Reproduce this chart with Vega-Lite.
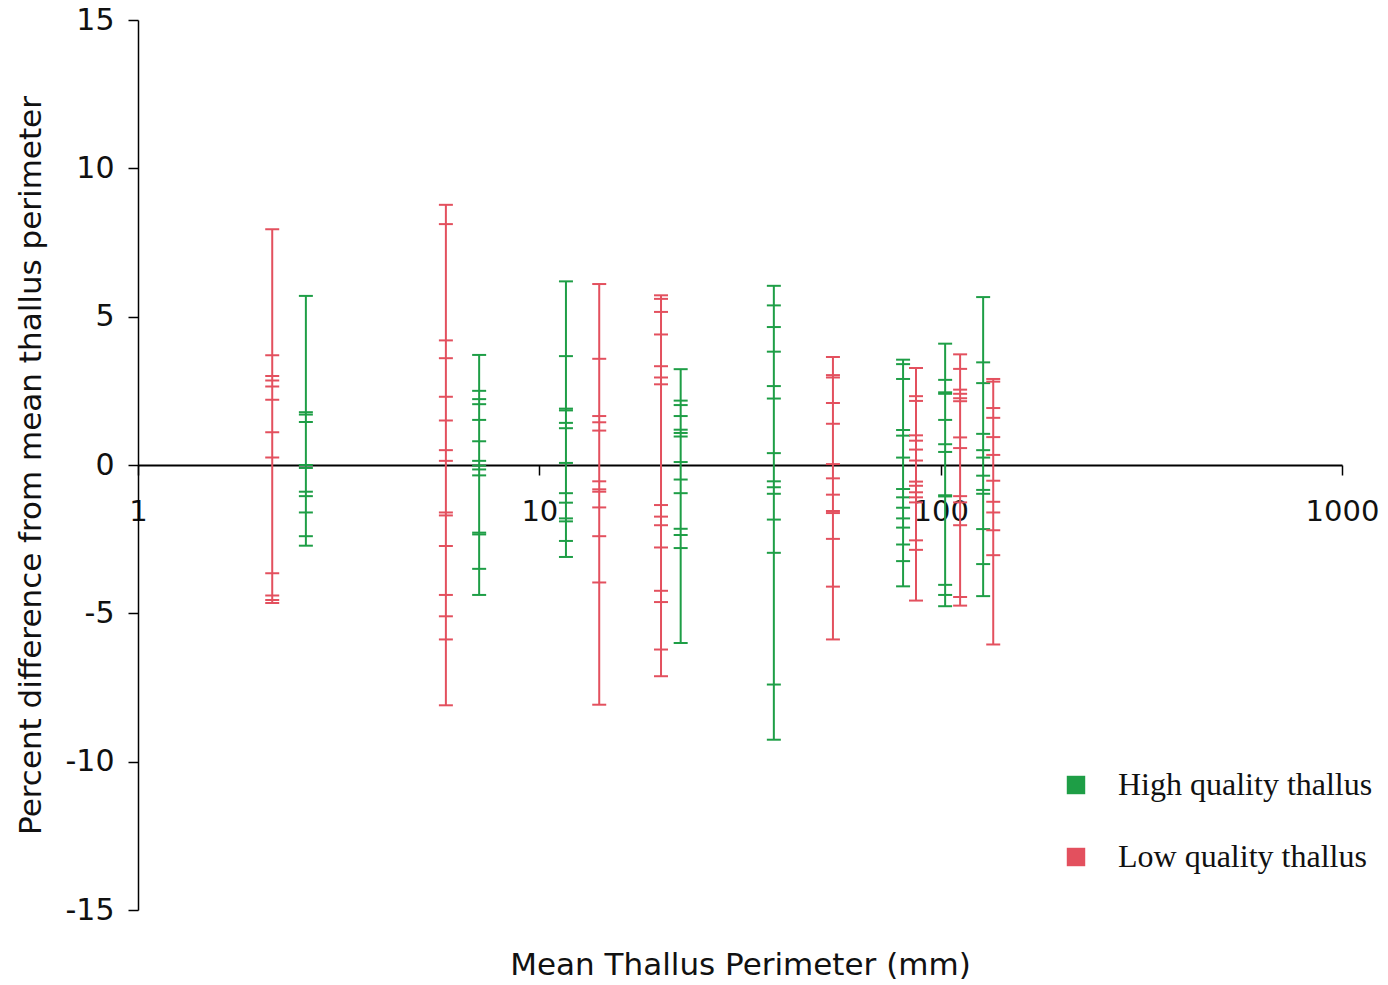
{
  "$schema": "https://vega.github.io/schema/vega-lite/v6.json",
  "width": 1204,
  "height": 890,
  "autosize": {"type": "none"},
  "padding": {"left": 138, "top": 20, "right": 46, "bottom": 75},
  "background": "white",
  "config": {"view": {"stroke": null}, "font": "DejaVu Sans"},
  "datasets": {
    "pts": [
      {"x": 2.16, "q": "Low quality thallus", "v": 7.95},
      {"x": 2.16, "q": "Low quality thallus", "v": 3.7},
      {"x": 2.16, "q": "Low quality thallus", "v": 3.0},
      {"x": 2.16, "q": "Low quality thallus", "v": 2.85},
      {"x": 2.16, "q": "Low quality thallus", "v": 2.65},
      {"x": 2.16, "q": "Low quality thallus", "v": 2.2},
      {"x": 2.16, "q": "Low quality thallus", "v": 1.1},
      {"x": 2.16, "q": "Low quality thallus", "v": 0.25},
      {"x": 2.16, "q": "Low quality thallus", "v": -3.65},
      {"x": 2.16, "q": "Low quality thallus", "v": -4.4},
      {"x": 2.16, "q": "Low quality thallus", "v": -4.55},
      {"x": 2.16, "q": "Low quality thallus", "v": -4.65},

      {"x": 2.62, "q": "High quality thallus", "v": 5.7},
      {"x": 2.62, "q": "High quality thallus", "v": 1.78},
      {"x": 2.62, "q": "High quality thallus", "v": 1.7},
      {"x": 2.62, "q": "High quality thallus", "v": 1.45},
      {"x": 2.62, "q": "High quality thallus", "v": 0.0},
      {"x": 2.62, "q": "High quality thallus", "v": -0.1},
      {"x": 2.62, "q": "High quality thallus", "v": -0.9},
      {"x": 2.62, "q": "High quality thallus", "v": -1.05},
      {"x": 2.62, "q": "High quality thallus", "v": -1.6},
      {"x": 2.62, "q": "High quality thallus", "v": -2.4},
      {"x": 2.62, "q": "High quality thallus", "v": -2.72},

      {"x": 5.85, "q": "Low quality thallus", "v": 8.77},
      {"x": 5.85, "q": "Low quality thallus", "v": 8.12},
      {"x": 5.85, "q": "Low quality thallus", "v": 4.2},
      {"x": 5.85, "q": "Low quality thallus", "v": 3.6},
      {"x": 5.85, "q": "Low quality thallus", "v": 2.3},
      {"x": 5.85, "q": "Low quality thallus", "v": 1.5},
      {"x": 5.85, "q": "Low quality thallus", "v": 0.5},
      {"x": 5.85, "q": "Low quality thallus", "v": 0.14},
      {"x": 5.85, "q": "Low quality thallus", "v": -1.6},
      {"x": 5.85, "q": "Low quality thallus", "v": -1.7},
      {"x": 5.85, "q": "Low quality thallus", "v": -2.73},
      {"x": 5.85, "q": "Low quality thallus", "v": -4.38},
      {"x": 5.85, "q": "Low quality thallus", "v": -5.1},
      {"x": 5.85, "q": "Low quality thallus", "v": -5.88},
      {"x": 5.85, "q": "Low quality thallus", "v": -8.1},

      {"x": 7.08, "q": "High quality thallus", "v": 3.71},
      {"x": 7.08, "q": "High quality thallus", "v": 2.5},
      {"x": 7.08, "q": "High quality thallus", "v": 2.22},
      {"x": 7.08, "q": "High quality thallus", "v": 2.05},
      {"x": 7.08, "q": "High quality thallus", "v": 1.52},
      {"x": 7.08, "q": "High quality thallus", "v": 0.8},
      {"x": 7.08, "q": "High quality thallus", "v": 0.14},
      {"x": 7.08, "q": "High quality thallus", "v": -0.02},
      {"x": 7.08, "q": "High quality thallus", "v": -0.15},
      {"x": 7.08, "q": "High quality thallus", "v": -0.35},
      {"x": 7.08, "q": "High quality thallus", "v": -2.28},
      {"x": 7.08, "q": "High quality thallus", "v": -2.34},
      {"x": 7.08, "q": "High quality thallus", "v": -3.5},
      {"x": 7.08, "q": "High quality thallus", "v": -4.38},

      {"x": 11.65, "q": "High quality thallus", "v": 6.19},
      {"x": 11.65, "q": "High quality thallus", "v": 3.67},
      {"x": 11.65, "q": "High quality thallus", "v": 1.9},
      {"x": 11.65, "q": "High quality thallus", "v": 1.84},
      {"x": 11.65, "q": "High quality thallus", "v": 1.42},
      {"x": 11.65, "q": "High quality thallus", "v": 1.24},
      {"x": 11.65, "q": "High quality thallus", "v": 0.07},
      {"x": 11.65, "q": "High quality thallus", "v": -0.95},
      {"x": 11.65, "q": "High quality thallus", "v": -1.27},
      {"x": 11.65, "q": "High quality thallus", "v": -1.8},
      {"x": 11.65, "q": "High quality thallus", "v": -1.9},
      {"x": 11.65, "q": "High quality thallus", "v": -2.56},
      {"x": 11.65, "q": "High quality thallus", "v": -3.1},

      {"x": 14.1, "q": "Low quality thallus", "v": 6.1},
      {"x": 14.1, "q": "Low quality thallus", "v": 3.58},
      {"x": 14.1, "q": "Low quality thallus", "v": 1.65},
      {"x": 14.1, "q": "Low quality thallus", "v": 1.44},
      {"x": 14.1, "q": "Low quality thallus", "v": 1.16},
      {"x": 14.1, "q": "Low quality thallus", "v": -0.55},
      {"x": 14.1, "q": "Low quality thallus", "v": -0.82},
      {"x": 14.1, "q": "Low quality thallus", "v": -0.9},
      {"x": 14.1, "q": "Low quality thallus", "v": -1.43},
      {"x": 14.1, "q": "Low quality thallus", "v": -2.4},
      {"x": 14.1, "q": "Low quality thallus", "v": -3.96},
      {"x": 14.1, "q": "Low quality thallus", "v": -8.08},

      {"x": 20.1, "q": "Low quality thallus", "v": 5.72},
      {"x": 20.1, "q": "Low quality thallus", "v": 5.6},
      {"x": 20.1, "q": "Low quality thallus", "v": 5.16},
      {"x": 20.1, "q": "Low quality thallus", "v": 4.4},
      {"x": 20.1, "q": "Low quality thallus", "v": 3.33},
      {"x": 20.1, "q": "Low quality thallus", "v": 2.95},
      {"x": 20.1, "q": "Low quality thallus", "v": 2.72},
      {"x": 20.1, "q": "Low quality thallus", "v": -1.35},
      {"x": 20.1, "q": "Low quality thallus", "v": -1.74},
      {"x": 20.1, "q": "Low quality thallus", "v": -2.03},
      {"x": 20.1, "q": "Low quality thallus", "v": -2.78},
      {"x": 20.1, "q": "Low quality thallus", "v": -4.24},
      {"x": 20.1, "q": "Low quality thallus", "v": -4.62},
      {"x": 20.1, "q": "Low quality thallus", "v": -6.22},
      {"x": 20.1, "q": "Low quality thallus", "v": -7.12},

      {"x": 22.5, "q": "High quality thallus", "v": 3.23},
      {"x": 22.5, "q": "High quality thallus", "v": 2.17},
      {"x": 22.5, "q": "High quality thallus", "v": 2.02},
      {"x": 22.5, "q": "High quality thallus", "v": 1.65},
      {"x": 22.5, "q": "High quality thallus", "v": 1.19},
      {"x": 22.5, "q": "High quality thallus", "v": 1.08},
      {"x": 22.5, "q": "High quality thallus", "v": 0.96},
      {"x": 22.5, "q": "High quality thallus", "v": 0.1},
      {"x": 22.5, "q": "High quality thallus", "v": -0.49},
      {"x": 22.5, "q": "High quality thallus", "v": -0.95},
      {"x": 22.5, "q": "High quality thallus", "v": -2.15},
      {"x": 22.5, "q": "High quality thallus", "v": -2.36},
      {"x": 22.5, "q": "High quality thallus", "v": -2.8},
      {"x": 22.5, "q": "High quality thallus", "v": -6.0},

      {"x": 38.4, "q": "High quality thallus", "v": 6.04},
      {"x": 38.4, "q": "High quality thallus", "v": 5.38},
      {"x": 38.4, "q": "High quality thallus", "v": 4.65},
      {"x": 38.4, "q": "High quality thallus", "v": 3.82},
      {"x": 38.4, "q": "High quality thallus", "v": 2.66},
      {"x": 38.4, "q": "High quality thallus", "v": 2.24},
      {"x": 38.4, "q": "High quality thallus", "v": 0.4},
      {"x": 38.4, "q": "High quality thallus", "v": -0.55},
      {"x": 38.4, "q": "High quality thallus", "v": -0.75},
      {"x": 38.4, "q": "High quality thallus", "v": -0.97},
      {"x": 38.4, "q": "High quality thallus", "v": -1.84},
      {"x": 38.4, "q": "High quality thallus", "v": -2.96},
      {"x": 38.4, "q": "High quality thallus", "v": -7.4},
      {"x": 38.4, "q": "High quality thallus", "v": -9.26},

      {"x": 53.9, "q": "Low quality thallus", "v": 3.64},
      {"x": 53.9, "q": "Low quality thallus", "v": 3.03},
      {"x": 53.9, "q": "Low quality thallus", "v": 2.95},
      {"x": 53.9, "q": "Low quality thallus", "v": 2.09},
      {"x": 53.9, "q": "Low quality thallus", "v": 1.39},
      {"x": 53.9, "q": "Low quality thallus", "v": 0.03},
      {"x": 53.9, "q": "Low quality thallus", "v": -0.45},
      {"x": 53.9, "q": "Low quality thallus", "v": -1.0},
      {"x": 53.9, "q": "Low quality thallus", "v": -1.55},
      {"x": 53.9, "q": "Low quality thallus", "v": -1.62},
      {"x": 53.9, "q": "Low quality thallus", "v": -2.49},
      {"x": 53.9, "q": "Low quality thallus", "v": -4.1},
      {"x": 53.9, "q": "Low quality thallus", "v": -5.88},

      {"x": 80.6, "q": "High quality thallus", "v": 3.55},
      {"x": 80.6, "q": "High quality thallus", "v": 3.4},
      {"x": 80.6, "q": "High quality thallus", "v": 2.9},
      {"x": 80.6, "q": "High quality thallus", "v": 1.18},
      {"x": 80.6, "q": "High quality thallus", "v": 0.99},
      {"x": 80.6, "q": "High quality thallus", "v": 0.25},
      {"x": 80.6, "q": "High quality thallus", "v": -0.81},
      {"x": 80.6, "q": "High quality thallus", "v": -1.09},
      {"x": 80.6, "q": "High quality thallus", "v": -1.44},
      {"x": 80.6, "q": "High quality thallus", "v": -1.8},
      {"x": 80.6, "q": "High quality thallus", "v": -2.11},
      {"x": 80.6, "q": "High quality thallus", "v": -2.68},
      {"x": 80.6, "q": "High quality thallus", "v": -3.24},
      {"x": 80.6, "q": "High quality thallus", "v": -4.09},

      {"x": 86.8, "q": "Low quality thallus", "v": 3.27},
      {"x": 86.8, "q": "Low quality thallus", "v": 2.32},
      {"x": 86.8, "q": "Low quality thallus", "v": 2.16},
      {"x": 86.8, "q": "Low quality thallus", "v": 1.0},
      {"x": 86.8, "q": "Low quality thallus", "v": 0.82},
      {"x": 86.8, "q": "Low quality thallus", "v": 0.52},
      {"x": 86.8, "q": "Low quality thallus", "v": 0.15},
      {"x": 86.8, "q": "Low quality thallus", "v": -0.56},
      {"x": 86.8, "q": "Low quality thallus", "v": -0.7},
      {"x": 86.8, "q": "Low quality thallus", "v": -0.92},
      {"x": 86.8, "q": "Low quality thallus", "v": -1.09},
      {"x": 86.8, "q": "Low quality thallus", "v": -1.26},
      {"x": 86.8, "q": "Low quality thallus", "v": -2.54},
      {"x": 86.8, "q": "Low quality thallus", "v": -2.86},
      {"x": 86.8, "q": "Low quality thallus", "v": -4.57},

      {"x": 102.6, "q": "High quality thallus", "v": 4.09},
      {"x": 102.6, "q": "High quality thallus", "v": 2.87},
      {"x": 102.6, "q": "High quality thallus", "v": 2.45},
      {"x": 102.6, "q": "High quality thallus", "v": 2.4},
      {"x": 102.6, "q": "High quality thallus", "v": 1.52},
      {"x": 102.6, "q": "High quality thallus", "v": 0.7},
      {"x": 102.6, "q": "High quality thallus", "v": 0.44},
      {"x": 102.6, "q": "High quality thallus", "v": -1.02},
      {"x": 102.6, "q": "High quality thallus", "v": -1.06},
      {"x": 102.6, "q": "High quality thallus", "v": -4.04},
      {"x": 102.6, "q": "High quality thallus", "v": -4.38},
      {"x": 102.6, "q": "High quality thallus", "v": -4.76},

      {"x": 111.8, "q": "Low quality thallus", "v": 3.73},
      {"x": 111.8, "q": "Low quality thallus", "v": 3.24},
      {"x": 111.8, "q": "Low quality thallus", "v": 2.54},
      {"x": 111.8, "q": "Low quality thallus", "v": 2.4},
      {"x": 111.8, "q": "Low quality thallus", "v": 2.25},
      {"x": 111.8, "q": "Low quality thallus", "v": 2.15},
      {"x": 111.8, "q": "Low quality thallus", "v": 0.93},
      {"x": 111.8, "q": "Low quality thallus", "v": 0.57},
      {"x": 111.8, "q": "Low quality thallus", "v": -1.05},
      {"x": 111.8, "q": "Low quality thallus", "v": -1.26},
      {"x": 111.8, "q": "Low quality thallus", "v": -2.03},
      {"x": 111.8, "q": "Low quality thallus", "v": -4.45},
      {"x": 111.8, "q": "Low quality thallus", "v": -4.74},

      {"x": 127.6, "q": "High quality thallus", "v": 5.66},
      {"x": 127.6, "q": "High quality thallus", "v": 3.46},
      {"x": 127.6, "q": "High quality thallus", "v": 2.76},
      {"x": 127.6, "q": "High quality thallus", "v": 1.05},
      {"x": 127.6, "q": "High quality thallus", "v": 0.5},
      {"x": 127.6, "q": "High quality thallus", "v": 0.25},
      {"x": 127.6, "q": "High quality thallus", "v": -0.36},
      {"x": 127.6, "q": "High quality thallus", "v": -0.84},
      {"x": 127.6, "q": "High quality thallus", "v": -0.97},
      {"x": 127.6, "q": "High quality thallus", "v": -2.16},
      {"x": 127.6, "q": "High quality thallus", "v": -3.34},
      {"x": 127.6, "q": "High quality thallus", "v": -4.42},

      {"x": 135.2, "q": "Low quality thallus", "v": 2.9},
      {"x": 135.2, "q": "Low quality thallus", "v": 2.81},
      {"x": 135.2, "q": "Low quality thallus", "v": 1.92},
      {"x": 135.2, "q": "Low quality thallus", "v": 1.59},
      {"x": 135.2, "q": "Low quality thallus", "v": 0.94},
      {"x": 135.2, "q": "Low quality thallus", "v": 0.34},
      {"x": 135.2, "q": "Low quality thallus", "v": -0.53},
      {"x": 135.2, "q": "Low quality thallus", "v": -1.24},
      {"x": 135.2, "q": "Low quality thallus", "v": -1.6},
      {"x": 135.2, "q": "Low quality thallus", "v": -2.2},
      {"x": 135.2, "q": "Low quality thallus", "v": -3.04},
      {"x": 135.2, "q": "Low quality thallus", "v": -6.05}
    ]
  },
  "data": {"name": "pts"},
  "layer": [
    {
      "mark": {"type": "rule", "strokeWidth": 2, "opacity": 1},
      "encoding": {
        "x": {
          "field": "x", "type": "quantitative",
          "scale": {"type": "log", "domain": [1, 1000], "nice": false},
          "axis": {
            "title": "Mean Thallus Perimeter (mm)",
            "values": [1, 10, 100, 1000],
            "format": "d",
            "offset": -445,
            "grid": false,
            "domainColor": "#000000",
            "domainWidth": 2,
            "tickColor": "#000000",
            "tickWidth": 1.5,
            "tickSize": 10,
            "labelFontSize": 29,
            "labelColor": "#111111",
            "labelPadding": 22,
            "labelFlush": false,
            "titleFontSize": 31,
            "titleFontWeight": "normal",
            "titleColor": "#111111",
            "titlePadding": 424
          }
        },
        "y": {
          "aggregate": "min", "field": "v", "type": "quantitative",
          "scale": {"domain": [-15, 15], "nice": false, "zero": false},
          "axis": {
            "title": "Percent difference from mean thallus perimeter",
            "values": [-15, -10, -5, 0, 5, 10, 15],
            "labelExpr": "'' + datum.value",
            "grid": false,
            "domainColor": "#000000",
            "domainWidth": 1.5,
            "tickColor": "#000000",
            "tickWidth": 1.5,
            "tickSize": 10,
            "labelFontSize": 30,
            "labelColor": "#111111",
            "labelPadding": 14,
            "titleFontSize": 31,
            "titleFontWeight": "normal",
            "titleColor": "#111111",
            "titlePadding": 18
          }
        },
        "y2": {"aggregate": "max", "field": "v"},
        "color": {
          "field": "q", "type": "nominal",
          "scale": {"domain": ["High quality thallus", "Low quality thallus"], "range": ["#1e9e46", "#e3505e"]},
          "legend": {
            "title": null,
            "orient": "none",
            "legendX": 922,
            "legendY": 749,
            "symbolType": "square",
            "symbolSize": 340,
            "symbolStrokeWidth": 0,
            "symbolOpacity": 1,
            "labelFont": "Liberation Serif",
            "labelFontSize": 32,
            "labelColor": "#111111",
            "labelOffset": 26,
            "rowPadding": 40,
            "labelLimit": 400
          }
        }
      }
    },
    {
      "mark": {"type": "tick", "orient": "horizontal", "size": 14, "thickness": 2, "opacity": 1},
      "encoding": {
        "x": {"field": "x", "type": "quantitative"},
        "y": {"field": "v", "type": "quantitative"},
        "color": {"field": "q", "type": "nominal"}
      }
    }
  ]
}
